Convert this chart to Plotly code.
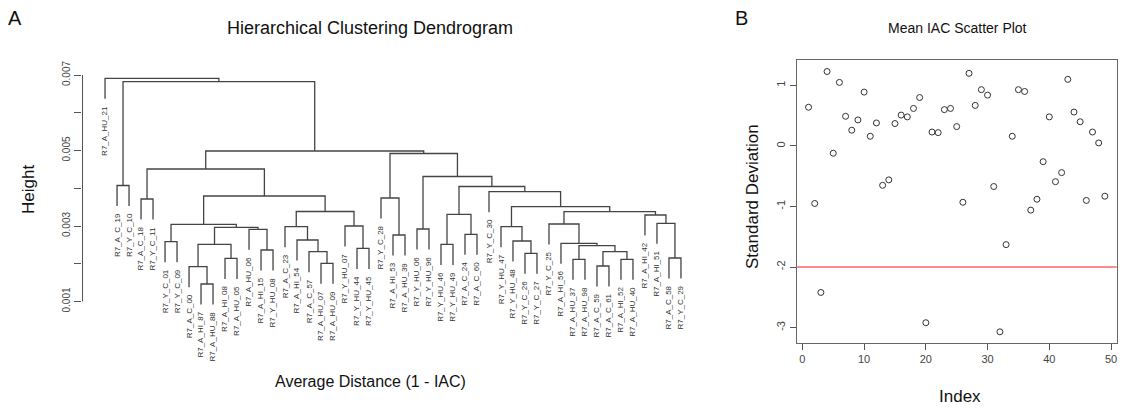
import plotly.graph_objects as go

W, H = 1123, 410

# ---------------- Panel A: dendrogram data ----------------
leaf_labels = [
    "R7_A_HU_21", "R7_A_C_19", "R7_Y_C_10", "R7_A_C_18", "R7_Y_C_11",
    "R7_Y_C_01", "R7_Y_C_09", "R7_A_C_00", "R7_A_HI_87", "R7_A_HU_88",
    "R7_A_HI_08", "R7_A_HU_05", "R7_A_HU_06", "R7_A_HI_15", "R7_Y_HU_08",
    "R7_A_C_23", "R7_A_HI_54", "R7_A_C_57", "R7_A_HU_07", "R7_A_HU_09",
    "R7_Y_HU_07", "R7_Y_HU_44", "R7_Y_HU_45", "R7_Y_C_28", "R7_A_HI_53",
    "R7_A_HU_39", "R7_Y_HU_06", "R7_Y_HU_96", "R7_Y_HU_46", "R7_Y_HU_49",
    "R7_A_C_24", "R7_A_C_60", "R7_Y_C_30", "R7_Y_HU_47", "R7_Y_HU_48",
    "R7_Y_C_26", "R7_Y_C_27", "R7_Y_C_25", "R7_A_HI_56", "R7_A_HU_37",
    "R7_A_HU_98", "R7_A_C_59", "R7_A_C_61", "R7_A_HI_52", "R7_A_HU_40",
    "R7_A_HI_42", "R7_A_HI_51", "R7_A_C_58", "R7_Y_C_29",
]
# R-style merge matrix: negative = leaf position (1-based), positive = earlier merge row (1-based)
merge_left = [-9, -8, -11, 2, -14, -13, 4, -6, 8, -19, -18, -17, -16, -22, -21, 13,
              9, -4, 18, -25, -24, -27, -29, -31, 23, -36, -35, -34, -40, -42, -44, 30,
              29, -39, -38, -48, -47, -46, 35, 28, -33, 25, 22, 21, 19, -2, 46, -1]
merge_right = [-10, 1, -12, 3, -15, 5, 6, -7, 7, -20, 10, 11, 12, -23, 14, 15,
               16, -5, 17, -26, 20, -28, -30, -32, 24, -37, 26, 27, -41, -43, -45, 31,
               32, 33, 34, -49, 36, 37, 38, 39, 40, 41, 42, 43, 44, -3, 45, 47]
merge_height = [0.001464, 0.001922, 0.002144, 0.002515, 0.002364, 0.002913, 0.002966, 0.002584,
                0.003045, 0.002012, 0.002319, 0.002629, 0.002981, 0.002409, 0.003000, 0.003384,
                0.003795, 0.003715, 0.004510, 0.002762, 0.003742, 0.002921, 0.002515, 0.002780,
                0.003310, 0.002277, 0.002603, 0.002981, 0.002118, 0.001940, 0.002118, 0.002319,
                0.002478, 0.002542, 0.003053, 0.002152, 0.003072, 0.003291, 0.003379, 0.003511,
                0.003909, 0.004046, 0.004311, 0.004921, 0.004987, 0.004073, 0.006823, 0.006913]
height_ticks = [0.001, 0.002, 0.003, 0.004, 0.005, 0.006, 0.007]
height_ticktext = ["0.001", "", "0.003", "", "0.005", "", "0.007"]

# ---------------- Panel B: scatter data ----------------
sd_values = [0.64, -0.95, -2.42, 1.23, -0.12, 1.05, 0.49, 0.26, 0.43, 0.89,
             0.16, 0.38, -0.65, -0.56, 0.37, 0.51, 0.48, 0.62, 0.80, -2.92,
             0.23, 0.22, 0.60, 0.62, 0.32, -0.93, 1.20, 0.67, 0.93, 0.84,
             -0.67, -3.07, -1.63, 0.16, 0.93, 0.90, -1.06, -0.88, -0.26, 0.48,
             -0.59, -0.44, 1.10, 0.56, 0.40, -0.90, 0.23, 0.05, -0.83]
sample_index = list(range(1, len(sd_values) + 1))
threshold = -2
x_ticks = [0, 10, 20, 30, 40, 50]
y_ticks = [-3, -2, -1, 0, 1]

# ---------------- Dendrogram geometry from the merge data ----------------
hang = 0.1 * (max(merge_height) - min(merge_height))
node_x = {}
xs, ys = [], []
leaf_bottom = {}

def child_pos(ref, parent_h):
    if ref < 0:
        leaf_bottom[-ref] = parent_h - hang
        return float(-ref), parent_h - hang
    return node_x[ref], merge_height[ref - 1]

for k in range(len(merge_height)):
    h = merge_height[k]
    xl, yl = child_pos(merge_left[k], h)
    xr, yr = child_pos(merge_right[k], h)
    node_x[k + 1] = (xl + xr) / 2.0
    xs += [xl, xl, xr, xr, None]
    ys += [yl, h, h, yr, None]

fig = go.Figure()
fig.add_trace(go.Scatter(x=xs, y=ys, mode="lines", xaxis="x", yaxis="y",
                         line=dict(color="#444444", width=1.3),
                         hoverinfo="skip", showlegend=False))

fig.add_trace(go.Scatter(x=sample_index, y=sd_values, mode="markers", xaxis="x2", yaxis="y2",
                         marker=dict(symbol="circle-open", size=6, color="#333333",
                                     line=dict(width=1, color="#333333")),
                         showlegend=False))

FONT = "Liberation Sans, Arial, sans-serif"
annotations = []
for i, lab in enumerate(leaf_labels, start=1):
    annotations.append(dict(x=i, y=leaf_bottom[i], xref="x", yref="y", text=lab,
                            textangle=-90, xanchor="center", yanchor="top", yshift=-5,
                            showarrow=False, font=dict(family=FONT, size=8, color="#333333")))

def px(xp, yp):
    return xp / W, 1 - yp / H

def add_text(text, xp, yp, size, angle=0, color="#111111"):
    ax, ay = px(xp, yp)
    annotations.append(dict(x=ax, y=ay, xref="paper", yref="paper", text=text, textangle=angle,
                            xanchor="center", yanchor="middle", showarrow=False,
                            font=dict(family=FONT, size=size, color=color)))

add_text("A", 15, 18, 20)
add_text("B", 741, 18, 20)
add_text("Hierarchical Clustering Dendrogram", 370, 28, 18)
add_text("Average Distance (1 - IAC)", 370, 381, 16)
add_text("Height", 28, 190, 17, angle=-90)
add_text("Mean IAC Scatter Plot", 957, 28, 14)
add_text("Standard Deviation", 752, 197, 17, angle=-90)
add_text("Index", 960, 396, 17)

shapes = [
    dict(type="line", xref="paper", yref="y", x0=82.5 / W, x1=82.5 / W,
         y0=height_ticks[0], y1=height_ticks[-1], line=dict(color="#555555", width=1)),
    dict(type="line", xref="x2 domain", yref="y2", x0=0, x1=1, y0=threshold, y1=threshold,
         line=dict(color="#ff8a8a", width=2)),
]

tickfont = dict(family=FONT, size=10, color="#444444")
fig.update_layout(
    width=W, height=H, margin=dict(l=0, r=0, t=0, b=0),
    paper_bgcolor="white", plot_bgcolor="white",
    showlegend=False, annotations=annotations, shapes=shapes,
    xaxis=dict(domain=[82 / W, 704 / W], range=[-0.92, 50.92], visible=False, anchor="y"),
    yaxis=dict(domain=[1 - 330 / H, 1 - 40 / H], range=[0.000245, 0.0079272], anchor="x",
               tickvals=height_ticks, ticktext=height_ticktext, ticks="outside", ticklen=7,
               tickcolor="#555555", tickangle=-90, tickfont=tickfont,
               showline=False, showgrid=False, zeroline=False),
    xaxis2=dict(domain=[796.7 / W, 1116.7 / W], range=[-0.92, 50.92], anchor="y2",
                tickvals=x_ticks, ticks="outside", ticklen=6, tickcolor="#555555",
                showline=True, mirror=True, linecolor="#666666", linewidth=1,
                showgrid=False, zeroline=False, tickfont=dict(family=FONT, size=11, color="#444444")),
    yaxis2=dict(domain=[1 - 342.7 / H, 1 - 60 / H], range=[-3.25, 1.42], anchor="x2",
                tickvals=y_ticks, ticktext=[str(v) for v in y_ticks], ticks="outside", ticklen=6,
                tickcolor="#555555", tickangle=-90,
                showline=True, mirror=True, linecolor="#666666", linewidth=1,
                showgrid=False, zeroline=False, tickfont=dict(family=FONT, size=11, color="#444444")),
)

fig.write_html("out.html")
